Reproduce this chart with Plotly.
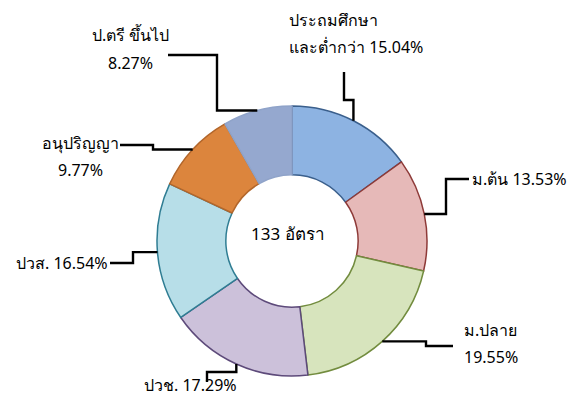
import math
import plotly.graph_objects as go

# ---- data ----
categories = ["ประถมศึกษาและต่ำกว่า", "ม.ต้น", "ม.ปลาย", "ปวช.", "ปวส.", "อนุปริญญา", "ป.ตรี ขึ้นไป"]
counts = [20, 18, 26, 23, 22, 13, 11]
label_lines = [
    ["ประถมศึกษา", "และต่ำกว่า 15.04%"],
    ["ม.ต้น 13.53%"],
    ["ม.ปลาย", "19.55%"],
    ["ปวช. 17.29%"],
    ["ปวส. 16.54%"],
    ["อนุปริญญา", "9.77%"],
    ["ป.ตรี ขึ้นไป", "8.27%"],
]
center_text = "133 อัตรา"

# ---- style ----
fills = ["#8DB3E2", "#E6B9B8", "#D7E4BD", "#CCC1DA", "#B7DEE8", "#DC853D", "#95A8CF"]
borders = ["#3A5F8C", "#8E3A38", "#728C3E", "#5D4A7A", "#2F7D93", "#B2662B", "#8FA3C9"]

W, H = 578, 405
OFF = 8  # page body margin
FW, FH = W - OFF, H - OFF
CX, CY, R = 292, 241, 135
HOLE = 0.49
FONT = "Tahoma, 'Noto Sans', 'DejaVu Sans', sans-serif"

# label placement (screen px): list of (x, y, anchor) per line
label_pos = [
    [(287, 20, "left"), (287, 47, "left")],
    [(470, 179, "left")],
    [(462, 330, "left"), (462, 357, "left")],
    [(190, 385, "center")],
    [(62, 263, "center")],
    [(80, 143, "center"), (80, 170, "center")],
    [(130, 35, "center"), (130, 63, "center")],
]
# leader routes after anchor point: ('h', x) or ('v', y)
routes = [
    [("v", 100), ("h", 344), ("v", 72)],
    [("h", 446), ("v", 179), ("h", 469)],
    [("h", 426), ("v", 346), ("h", 453)],
    [("v", 372), ("h", 207), ("v", 382)],
    [("h", 133), ("v", 263), ("h", 110)],
    [("h", 153), ("v", 145), ("h", 120)],
    [("h", 217), ("v", 55), ("h", 168)],
]


def px(x):
    return (x - OFF) / FW


def py(y):
    return 1 - (y - OFF) / FH


fig = go.Figure()
fig.add_trace(go.Pie(
    labels=categories,
    values=counts,
    hole=HOLE,
    sort=False,
    direction="clockwise",
    rotation=0,
    textinfo="none",
    marker=dict(colors=fills, line=dict(color=borders, width=1.5)),
    domain=dict(x=[px(CX - R), px(CX + R)], y=[py(CY + R), py(CY - R)]),
    showlegend=False,
    hoverinfo="label+percent",
))

total = sum(counts)
cum = 0
shapes = []
annotations = []
for i, v in enumerate(counts):
    mid = (cum + v / 2) / total * 2 * math.pi
    cum += v
    ax = CX + R * math.sin(mid)
    ay = CY - R * math.cos(mid)
    pts = [(ax, ay)]
    x, y = ax, ay
    for d, val in routes[i]:
        if d == "h":
            x = val
        else:
            y = val
        pts.append((x, y))
    path = "M " + " L ".join(f"{px(a):.5f},{py(b):.5f}" for a, b in pts)
    shapes.append(dict(type="path", path=path, xref="paper", yref="paper",
                       line=dict(color="black", width=2.4)))
    for text, (lx, ly, anc) in zip(label_lines[i], label_pos[i]):
        annotations.append(dict(
            x=px(lx), y=py(ly), xref="paper", yref="paper", text=text,
            showarrow=False, xanchor=anc, yanchor="middle",
            font=dict(family=FONT, size=16, color="black"),
        ))

annotations.append(dict(
    x=px(CX - 4), y=py(CY - 8), xref="paper", yref="paper", text=center_text,
    showarrow=False, xanchor="center", yanchor="middle",
    font=dict(family=FONT, size=17, color="black"),
))

fig.update_layout(
    width=FW, height=FH,
    margin=dict(l=0, r=0, t=0, b=0),
    paper_bgcolor="white", plot_bgcolor="white",
    shapes=shapes, annotations=annotations,
)
fig.write_html("out.html")
